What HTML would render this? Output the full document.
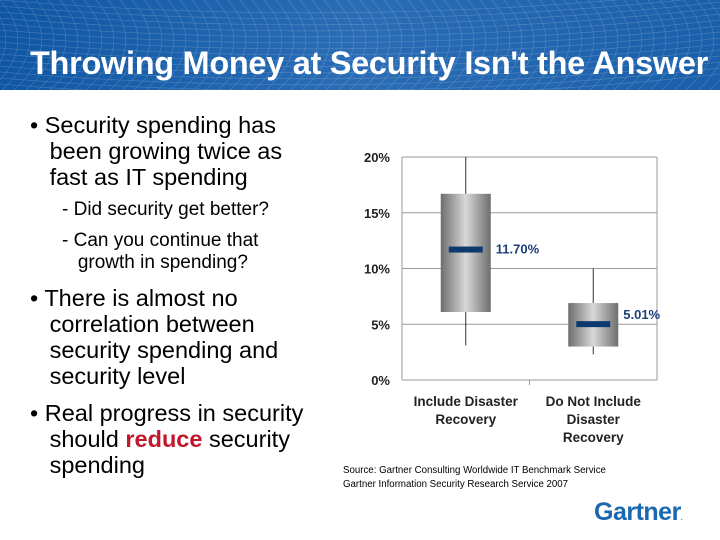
<!DOCTYPE html>
<html><head><meta charset="utf-8"><style>
body{margin:0;width:720px;height:540px;overflow:hidden;background:#fff;font-family:"Liberation Sans",sans-serif;position:relative}
#header{position:absolute;left:0;top:0;width:720px;height:90px;background:linear-gradient(90deg,#0f56a3,#2a6db5 50%,#1a5faa);overflow:hidden}
#title{position:absolute;left:30px;top:45px;color:#fff;font-weight:bold;font-size:32.5px;white-space:nowrap;letter-spacing:-0.3px}
.b{position:absolute;left:30px;font-size:23.5px;color:#000;line-height:26px;white-space:nowrap}
.s{position:absolute;left:62px;font-size:19px;color:#000;line-height:22px;white-space:nowrap}
#src{position:absolute;left:343px;top:464px;font-size:9.7px;line-height:14px;color:#000;white-space:nowrap}
#logo{position:absolute;left:594px;top:498px;font-size:25px;font-weight:bold;color:#1a68b0;letter-spacing:-0.5px}
</style></head><body>
<div id="header">
<svg width="720" height="90" style="position:absolute;left:0;top:0;opacity:0.18">
<g stroke="#fff" stroke-width="0.7" fill="none" id="mesh"></g></svg>
<div id="title">Throwing Money at Security Isn't the Answer</div>
</div>
<div class="b" style="top:112px">• Security spending has<br>&nbsp;&nbsp;&nbsp;been growing twice as<br>&nbsp;&nbsp;&nbsp;fast as IT spending</div>
<div class="s" style="top:199px">- Did security get better?</div>
<div class="s" style="top:230px">- Can you continue that<br>&nbsp;&nbsp;&nbsp;growth in spending?</div>
<div class="b" style="top:285px">• There is almost no<br>&nbsp;&nbsp;&nbsp;correlation between<br>&nbsp;&nbsp;&nbsp;security spending and<br>&nbsp;&nbsp;&nbsp;security level</div>
<div class="b" style="top:400px">• Real progress in security<br>&nbsp;&nbsp;&nbsp;should <span style="color:#c0182a;font-weight:bold">reduce</span> security<br>&nbsp;&nbsp;&nbsp;spending</div>
<svg id="chart" width="720" height="540" style="position:absolute;left:0;top:0">
<defs><linearGradient id="g" x1="0" x2="1"><stop offset="0" stop-color="#6e6e6e"/><stop offset="0.5" stop-color="#d8d8d8"/><stop offset="1" stop-color="#6e6e6e"/></linearGradient></defs>
</svg>
<div id="src">Source: Gartner Consulting Worldwide IT Benchmark Service<br>Gartner Information Security Research Service 2007</div>
<div id="logo">Gartner<span style="font-size:6px">.</span></div>
<script>
const mesh=document.getElementById('mesh');
for(let i=-20;i<80;i++){const p=document.createElementNS('http://www.w3.org/2000/svg','path');p.setAttribute('d',`M${i*12} 0 Q${i*12+40} 45 ${i*12-10} 90`);mesh.appendChild(p);}
for(let j=0;j<15;j++){const p=document.createElementNS('http://www.w3.org/2000/svg','path');p.setAttribute('d',`M0 ${j*6} Q360 ${j*6+30} 720 ${j*6-10}`);mesh.appendChild(p);}
const categories=[["Include Disaster","Recovery"],["Do Not Include","Disaster","Recovery"]];
const medians=[11.70,5.01];
const q1=[6.1,3.0];
const q3=[16.7,6.9];
const whiskerLow=[3.1,2.3];
const whiskerHigh=[20,10];
const medianLabels=["11.70%","5.01%"];
const yTicks=[0,5,10,15,20];
const tickLabels=["0%","5%","10%","15%","20%"];
const NS='http://www.w3.org/2000/svg';
const svg=document.getElementById('chart');
const x0=402,x1=657,y0=380,y1=157;
const yS=v=>y0-(v/20)*(y0-y1);
const bw=(x1-x0)/categories.length;
const xC=i=>x0+bw*(i+0.5);
function el(t,a){const e=document.createElementNS(NS,t);for(const k in a)e.setAttribute(k,a[k]);svg.appendChild(e);return e;}
yTicks.forEach((t,i)=>{
 const l=el('line',{x1:x0,x2:x1,y1:yS(t),y2:yS(t),stroke:'#999','stroke-width':1});
 
 
 const tx=el('text',{x:390,y:yS(t)+5,'text-anchor':'end','font-size':13,'font-weight':'bold',fill:'#222','font-family':'Liberation Sans'});
 tx.textContent=tickLabels[i];
 
 
});
const ax=el('line',{x1:x0,x2:x0,y1:y1,y2:y0,stroke:'#999'});


el('line',{x1:x1,x2:x1,y1:y1,y2:y0,stroke:'#999'});
el('line',{x1:x0+bw,x2:x0+bw,y1:y0,y2:y0+5,stroke:'#999'});
categories.forEach((c,i)=>{
 const cx=xC(i),w=50;
 const wl=el('line',{x1:cx,x2:cx,y1:yS(whiskerHigh[i]),y2:yS(whiskerLow[i]),stroke:'#333','stroke-width':1});
 
 
 const r=el('rect',{x:cx-w/2,y:yS(q3[i]),width:w,height:yS(q1[i])-yS(q3[i]),fill:'url(#g)'});
 
 
 const m=el('rect',{x:cx-17,y:yS(medians[i])-3,width:34,height:6,fill:'#0d3a6e'});
 
 
 const ml=el('text',{x:cx+w/2+5,y:yS(medians[i])+(i==0?4:-5),'font-size':13,'font-weight':'bold',fill:'#1d3f78','font-family':'Liberation Sans'});
 ml.textContent=medianLabels[i];
 
 
 c.forEach((s,k)=>{const t=el('text',{x:cx,y:406+k*18,'text-anchor':'middle','font-size':13.5,'font-weight':'bold',fill:'#222','font-family':'Liberation Sans'});t.textContent=s;
 
 });
});
</script>
</body></html>
